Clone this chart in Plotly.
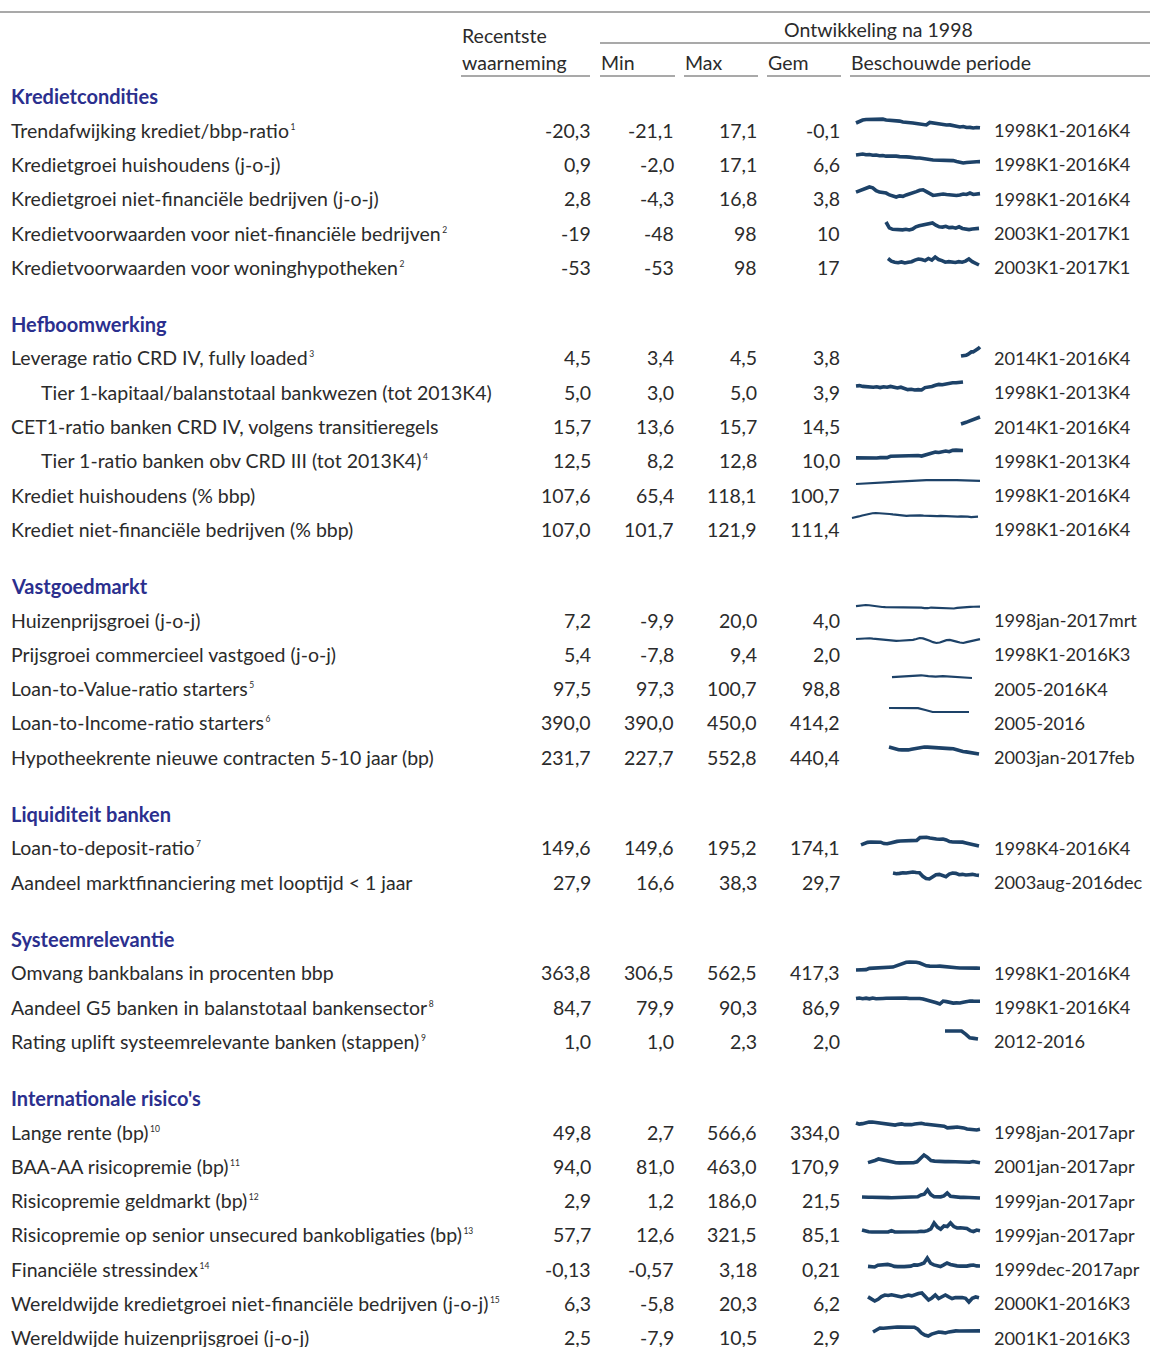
import plotly.graph_objects as go

W, H = 1150, 1347

# ---- data ----
sections = ["Kredietcondities", "Hefboomwerking", "Vastgoedmarkt",
            "Liquiditeit banken", "Systeemrelevantie", "Internationale risico's"]
section_sizes = [5, 6, 5, 2, 3, 7]

labels = [
    "Trendafwijking krediet/bbp-ratio",
    "Kredietgroei huishoudens (j-o-j)",
    "Kredietgroei niet-financiële bedrijven (j-o-j)",
    "Kredietvoorwaarden voor niet-financiële bedrijven",
    "Kredietvoorwaarden voor woninghypotheken",
    "Leverage ratio CRD IV, fully loaded",
    "Tier 1-kapitaal/balanstotaal bankwezen (tot 2013K4)",
    "CET1-ratio banken CRD IV, volgens transitieregels",
    "Tier 1-ratio banken obv CRD III (tot 2013K4)",
    "Krediet huishoudens (% bbp)",
    "Krediet niet-financiële bedrijven (% bbp)",
    "Huizenprijsgroei (j-o-j)",
    "Prijsgroei commercieel vastgoed (j-o-j)",
    "Loan-to-Value-ratio starters",
    "Loan-to-Income-ratio starters",
    "Hypotheekrente nieuwe contracten 5-10 jaar (bp)",
    "Loan-to-deposit-ratio",
    "Aandeel marktfinanciering met looptijd < 1 jaar",
    "Omvang bankbalans in procenten bbp",
    "Aandeel G5 banken in balanstotaal bankensector",
    "Rating uplift systeemrelevante banken (stappen)",
    "Lange rente (bp)",
    "BAA-AA risicopremie (bp)",
    "Risicopremie geldmarkt (bp)",
    "Risicopremie op senior unsecured bankobligaties (bp)",
    "Financiële stressindex",
    "Wereldwijde kredietgroei niet-financiële bedrijven (j-o-j)",
    "Wereldwijde huizenprijsgroei (j-o-j)",
]
notes = ["1", "", "", "2", "2", "3", "", "", "4", "", "", "", "", "5", "6", "",
         "7", "", "", "8", "9", "10", "11", "12", "13", "14", "15", ""]
indented = [6, 8]

recent = ["-20,3", "0,9", "2,8", "-19", "-53", "4,5", "5,0", "15,7", "12,5", "107,6",
          "107,0", "7,2", "5,4", "97,5", "390,0", "231,7", "149,6", "27,9", "363,8",
          "84,7", "1,0", "49,8", "94,0", "2,9", "57,7", "-0,13", "6,3", "2,5"]
mins = ["-21,1", "-2,0", "-4,3", "-48", "-53", "3,4", "3,0", "13,6", "8,2", "65,4",
        "101,7", "-9,9", "-7,8", "97,3", "390,0", "227,7", "149,6", "16,6", "306,5",
        "79,9", "1,0", "2,7", "81,0", "1,2", "12,6", "-0,57", "-5,8", "-7,9"]
maxs = ["17,1", "17,1", "16,8", "98", "98", "4,5", "5,0", "15,7", "12,8", "118,1",
        "121,9", "20,0", "9,4", "100,7", "450,0", "552,8", "195,2", "38,3", "562,5",
        "90,3", "2,3", "566,6", "463,0", "186,0", "321,5", "3,18", "20,3", "10,5"]
means = ["-0,1", "6,6", "3,8", "10", "17", "3,8", "3,9", "14,5", "10,0", "100,7",
         "111,4", "4,0", "2,0", "98,8", "414,2", "440,4", "174,1", "29,7", "417,3",
         "86,9", "2,0", "334,0", "170,9", "21,5", "85,1", "0,21", "6,2", "2,9"]
periods = ["1998K1-2016K4", "1998K1-2016K4", "1998K1-2016K4", "2003K1-2017K1",
           "2003K1-2017K1", "2014K1-2016K4", "1998K1-2013K4", "2014K1-2016K4",
           "1998K1-2013K4", "1998K1-2016K4", "1998K1-2016K4", "1998jan-2017mrt",
           "1998K1-2016K3", "2005-2016K4", "2005-2016", "2003jan-2017feb",
           "1998K4-2016K4", "2003aug-2016dec", "1998K1-2016K4", "1998K1-2016K4",
           "2012-2016", "1998jan-2017apr", "2001jan-2017apr", "1999jan-2017apr",
           "1999jan-2017apr", "1999dec-2017apr", "2000K1-2016K3", "2001K1-2016K3"]

# sparkline series (start year, step in years, values)
s_trend = [0.1, 8.6, 12.9, 15.0, 15.0, 17.1, 17.1, 15.0, 16.5, 12.9, 12.5, 10.7, 8.6,
           8.2, 4.4, 4.0, 2.3, 0.1, -2.0, -4.1, -6.2, -8.3, 2.3, 0.1, -4.1, -6.2, -6.5,
           -8.3, -8.0, -10.5, -14.7, -16.8, -14.7, -19.0, -18.6, -21.1, -19.0, -20.3]
s_hh = [15.0, 16.5, 17.1, 15.5, 16.0, 14.5, 15.0, 13.5, 14.0, 12.5, 13.0, 12.0, 12.5,
        11.5, 12.0, 11.0, 10.5, 9.0, 8.5, 8.5, 8.0, 7.0, 5.5, 4.5, 4.5, 4.0, 4.5, 4.0,
        3.5, 3.0, 1.0, -1.5, -2.0, -1.0, 0.0, 0.5, 0.8, 0.9]
s_nfb = [6, 9, 12, 15, 16.8, 15, 9, 6, 5, 4, 0, -2, -4.3, -2, -3, 0, 2, 5, 7, 10, 11,
         7, 3, -1, 0, 1, 2, 1, 0, 0, -1, 0, 2, 1, 4, 1, 2, 2.8]
s_kv_nfb = [98, -10, -35, -40, -30, -45, -35, -48, -30, 10, 30, 40, 45, 60, 80, 40, 10,
            5, 20, -5, 0, -15, 10, -20, -30, -40, -30, -25, -19]
s_kv_hyp = [70, 20, 0, -10, 5, -15, 0, 10, 40, 60, 50, 30, 70, 40, 98, 50, 30, 0, 10,
            5, -5, 10, 0, 20, 60, 10, -30, -53]
s_lev = [3.4, 3.4, 3.5, 3.5, 3.6, 3.8, 3.9, 3.9, 4.0, 4.1, 4.3, 4.5]
s_t1bal = [4.0, 4.1, 3.9, 3.8, 3.9, 3.7, 3.8, 3.6, 3.8, 3.7, 3.9, 3.6, 3.5, 3.7, 3.4,
           3.1, 3.2, 3.0, 3.1, 3.0, 3.6, 3.7, 3.9, 4.2, 4.4, 4.3, 4.5, 4.6, 4.8, 4.8,
           4.9, 5.0]
s_cet1 = [13.6, 13.7, 14.0, 14.1, 14.3, 14.5, 14.6, 14.7, 15.0, 15.2, 15.4, 15.7]
s_t1r = [8.3, 8.2, 8.3, 8.2, 8.4, 8.3, 8.2, 8.4, 8.5, 8.4, 9.2, 9.3, 9.4, 9.2, 9.5,
         9.4, 9.6, 9.9, 9.6, 9.3, 10.0, 10.4, 11.0, 11.6, 11.4, 12.0, 12.2, 11.8, 12.6,
         12.7, 12.8, 12.5]
s_kr_hh = [65.4, 67, 69, 71, 74, 77, 80, 82, 85, 88, 91, 94, 97, 100, 103, 105, 107,
           109, 111, 113, 114, 116, 117, 118.1, 118, 117.5, 117, 117, 116.5, 116,
           115.5, 115, 114, 113, 112, 110.5, 109, 107.6]
s_kr_nfb = [101.7, 104, 108, 112, 116, 119, 121, 121.9, 121.5, 121, 120, 118, 116, 114,
            112, 111, 110, 111, 112, 113, 112, 111, 110, 111, 110, 109, 110, 109, 108,
            109, 108, 107, 108, 106, 107, 105, 106, 107]
s_huis = [12, 16, 19, 20, 18, 14, 10, 7, 5, 4, 4, 4, 3, 4, 3, 4, 4, 4, 3, 2, 0, -3,
          -4, 1, 0, -1, -2, -5, -8, -9.9, -6, -2, 1, 3, 5, 6, 7, 8, 7.2]
s_cre = [6, 7, 7.5, 8, 8.5, 7, 6, 4, 3, 1, 0, 0.5, -0.5, 0, 0.5, 0, 1, 3, 6, 9.4, 8,
         5, 0, -5, -7.8, -6, -2, 2, 3, 1, -3, -6, -7.8, -5, -2, 0, 2, 5.4]
s_ltv = [98.5, 99.0, 99.8, 100.7, 100.4, 99.5, 99.0, 99.4, 98.8, 98.2, 97.8, 97.5]
s_lti = [450, 450, 450, 450, 448, 420, 390, 390, 390, 390, 390, 390]
s_hyprente = [550, 500, 460, 430, 420, 410, 420, 450, 480, 520, 540, 552.8, 545, 530,
              540, 520, 500, 510, 490, 480, 470, 420, 380, 350, 330, 300, 270, 240, 231.7]
s_ltd = [155, 162, 168, 170, 171, 170, 169, 162, 161, 165, 170, 173, 175, 175, 176,
         175, 176, 178, 192, 195.2, 194, 190, 186, 185, 184, 185, 180, 172, 170, 171,
         170, 169, 165, 161, 158, 153, 149.6]
s_markt = [35, 33, 34, 36, 35, 37, 38.3, 37, 36, 25, 18, 16.6, 22, 30, 31, 28, 24, 32,
           35, 34, 30, 31, 29, 30, 31, 29, 27.9]
s_balans = [306.5, 310, 315, 318, 360, 365, 370, 372, 368, 375, 380, 400, 440, 480,
            520, 555, 560, 562.5, 555, 530, 470, 440, 430, 420, 425, 430, 425, 420, 410,
            390, 380, 370, 375, 370, 365, 370, 368, 363.8]
s_g5 = [89.5, 90.3, 89.0, 90.0, 88.8, 90.2, 89.0, 90.0, 89.5, 89.8, 90.0, 90.0, 89.8,
        90.0, 89.9, 90.0, 89.5, 89.8, 89.6, 89.5, 88.5, 87.0, 86.5, 84.0, 82.0, 79.9,
        85.0, 84.0, 82.0, 81.5, 81.8, 81.6, 83.0, 84.5, 85.0, 84.8, 85.0, 84.7]
s_uplift = [2.3, 2.3, 2.3, 2.3, 2.3, 1.8, 1.2, 1.1, 1.0]
s_rente = [500, 420, 450, 520, 560, 566.6, 540, 470, 440, 430, 420, 410, 350, 400, 430,
           380, 360, 380, 420, 470, 480, 430, 400, 380, 340, 300, 320, 270, 150, 200,
           190, 210, 190, 150, 70, 30, 40, 2.7, 49.8]
s_baa = [100, 130, 200, 272, 230, 180, 150, 100, 90, 85, 81, 85, 90, 95, 140, 300, 463,
         350, 200, 170, 150, 140, 145, 150, 140, 130, 110, 100, 95, 120, 150, 110, 94]
s_geld = [25, 15, 20, 18, 20, 15, 12, 10, 10, 8, 10, 12, 10, 10, 12, 15, 20, 30, 70,
          90, 186, 80, 30, 25, 28, 50, 116, 40, 25, 20, 15, 20, 18, 10, 5, 1.2, 2.9]
s_senior = [80, 40, 20, 15, 18, 15, 14, 16, 15, 60, 15, 14, 13, 12.6, 14, 15, 16, 20,
            40, 30, 60, 120, 321.5, 180, 110, 220, 200, 321, 200, 150, 160, 140, 130,
            60, 30, 80, 57.7]
s_stress = [-0.3, -0.5, -0.57, 0.2, 0.4, 0.3, 0.5, 0.2, -0.3, -0.4, -0.5, -0.4, -0.3,
            -0.2, 0.3, 0.2, 0.6, 1.1, 3.18, 1.0, 0.3, 0.0, -0.4, 0.3, 1.1, 0.5, 0.0,
            -0.1, -0.2, -0.3, -0.2, 0.1, 0.27, -0.1, -0.13]
s_wkrediet = [9, 4, -3, 2, 10, 14.5, 13, 15, 14, 11, 8.7, 11, 14.5, 12, 16, 19, 20.3,
              10, 0, 6, 14.5, 4.3, 9, 14.5, 9, 4.3, 7, 8, 7, 5, -5.8, 5, 8.7, 6.3]
s_whuis = [0.3, 4, 8.5, 8.0, 9, 8.5, 10, 10.5, 10.3, 10.5, 10.2, 10.5, 10, 6, -1.7, -6,
           -7.9, -4, -1, 0.3, -0.5, -1.7, 0.5, 2, 2.5, 2.3, 2.5, 2.4, 2.6, 2.5, 2.4, 2.5]

series = [
    (1998.0, 0.5, s_trend), (1998.0, 0.5, s_hh), (1998.0, 0.5, s_nfb),
    (2003.0, 0.5, s_kv_nfb), (2003.0, 0.5, s_kv_hyp),
    (2014.0, 0.25, s_lev), (1998.0, 0.5, s_t1bal), (2014.0, 0.25, s_cet1),
    (1998.0, 0.5, s_t1r), (1998.0, 0.5, s_kr_hh), (1998.0, 0.5, s_kr_nfb),
    (1998.0, 0.5, s_huis), (1998.0, 0.5, s_cre), (2005, 1, s_ltv), (2005, 1, s_lti),
    (2003.0, 0.5, s_hyprente),
    (1998.75, 0.5, s_ltd), (2003.5, 0.5, s_markt),
    (1998.0, 0.5, s_balans), (1998.0, 0.5, s_g5), (2012.0, 0.5, s_uplift),
    (1998.0, 0.5, s_rente), (2001.0, 0.5, s_baa), (1999.0, 0.5, s_geld),
    (1999.0, 0.5, s_senior), (2000.0, 0.5, s_stress), (2000.0, 0.5, s_wkrediet),
    (2001.0, 0.5, s_whuis),
]

# ---- layout / style ----
# pixel box of each sparkline: left, right, top, bottom
spark_box = [
    (856, 980, 119, 128), (856, 980, 154, 163), (856, 980, 187, 197),
    (886, 979, 222, 230), (888, 979, 257, 265),
    (961, 980, 347, 356), (856, 963, 382, 390), (961, 980, 417, 424),
    (856, 963, 450, 458), (856, 980, 480, 484), (852, 978, 513, 518),
    (856, 980, 605, 609), (856, 980, 638, 643), (892, 972, 675, 678),
    (889, 969, 708, 712), (889, 979, 747, 754),
    (861, 979, 837, 846), (893, 979, 872, 879),
    (856, 980, 962, 970), (856, 980, 998, 1004), (945, 978, 1031, 1039),
    (856, 980, 1122, 1130), (868, 980, 1155, 1163), (862, 980, 1190, 1198),
    (862, 980, 1223, 1232), (868, 980, 1258, 1267), (868, 979, 1293, 1302),
    (873, 980, 1327, 1336),
]
thin = {9, 10, 11, 12, 13, 14}

FONT = "Lato"
TXT = "#2b2b2b"
HEAD = "#2b2f8e"
SPARK = "#1d4268"
FS = 19.5


def px(x):
    return x / W


def py(y):
    return 1 - y / H


fig = go.Figure()
annotations = []
shapes = []


def text(x, y, s, anchor="left", color=TXT, size=FS):
    annotations.append(dict(
        x=px(x), y=py(y), xref="paper", yref="paper", text=s, showarrow=False,
        xanchor=anchor, yanchor="middle", font=dict(family=FONT, size=size, color=color)))


def hline(x0, x1, y, color="#555555", width=1.2):
    shapes.append(dict(type="line", xref="paper", yref="paper",
                       x0=px(x0), x1=px(x1), y0=py(y), y1=py(y),
                       line=dict(color=color, width=width)))


# header
hline(0, 1150, 12)
hline(600, 1150, 43)
for a, b in [(461, 590), (600, 675), (684, 758), (767, 841), (850, 1150)]:
    hline(a, b, 76)
text(878, 29, "Ontwikkeling na 1998", anchor="center")
text(460, 36, "Recentste")
text(460, 62, "waarneming")
text(599, 62, "Min")
text(683, 62, "Max")
text(766, 62, "Gem")
text(849, 62, "Beschouwde periode")

# rows
row_y = []
y = 96
for sec, n in zip(sections, section_sizes):
    text(9, y, "<b>" + sec + "</b>", color=HEAD, size=20)
    for k in range(n):
        y += 34.25
        row_y.append(y)
    y += 56.5

for i, lab in enumerate(labels):
    ry = row_y[i]
    s = lab
    if notes[i]:
        s += "<span style='font-size:6px'> </span><sup><span style='font-size:8.5px'>" + notes[i] + "</span></sup>"
    text(39 if i in indented else 9, ry, s)
    text(593, ry, recent[i], anchor="right")
    text(676, ry, mins[i], anchor="right")
    text(759, ry, maxs[i], anchor="right")
    text(842, ry, means[i], anchor="right")
    text(992, ry, periods[i], size=18.2)

# sparklines, each on its own hidden axes
layout_axes = {}
for i, (start, step, vals) in enumerate(series):
    xs = [start + step * k for k in range(len(vals))]
    l, r, t, b = spark_box[i]
    lw = 2.2 if i in thin else 3.6
    pad = 4
    vmin, vmax = min(vals), max(vals)
    uy = (vmax - vmin) / max(b - t, 1)
    ux = (xs[-1] - xs[0]) / (r - l)
    n = i + 2
    fig.add_trace(go.Scatter(
        x=xs, y=vals, mode="lines", xaxis=f"x{n}", yaxis=f"y{n}",
        line=dict(color=SPARK, width=lw), hoverinfo="skip", showlegend=False))
    layout_axes[f"xaxis{n}"] = dict(
        domain=[px(l - pad), px(r + pad)], range=[xs[0] - pad * ux, xs[-1] + pad * ux],
        visible=False, anchor=f"y{n}", fixedrange=True)
    layout_axes[f"yaxis{n}"] = dict(
        domain=[py(b + pad), py(t - pad)], range=[vmin - pad * uy, vmax + pad * uy],
        visible=False, anchor=f"x{n}", fixedrange=True)

fig.update_layout(
    width=W, height=H,
    margin=dict(l=0, r=0, t=0, b=0),
    paper_bgcolor="white", plot_bgcolor="rgba(0,0,0,0)",
    xaxis=dict(visible=False), yaxis=dict(visible=False),
    annotations=annotations, shapes=shapes,
    showlegend=False,
    **layout_axes,
)

fig.write_html("out.html", config={"displayModeBar": False},
               post_script="document.body.style.margin='0';")
